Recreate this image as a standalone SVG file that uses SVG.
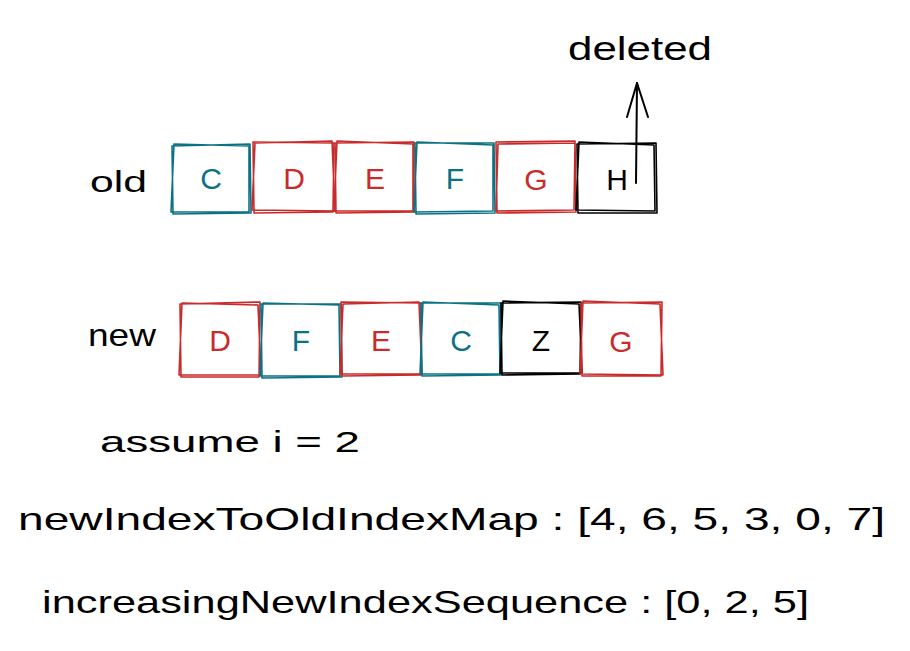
<svg xmlns="http://www.w3.org/2000/svg" width="910" height="651" viewBox="0 0 910 651">
<style>
.bx{fill:none;stroke-width:1.6;stroke-linecap:round;stroke-linejoin:round}
.teal{stroke:#0b7285}
.red{stroke:#c92a2a}
.blk{stroke:#000}
.lt{font-family:"Liberation Sans",Arial,sans-serif;font-size:30px;text-anchor:middle}
.tteal{fill:#0b7285}
.tred{fill:#c92a2a}
.tblk{fill:#000}
.lbl{font-family:"Liberation Sans",Arial,sans-serif;fill:#000}
.conn{fill:none;stroke:#000;stroke-width:2;stroke-linecap:round;stroke-linejoin:round}
</style>
<rect width="910" height="651" fill="#fff"/>

<g id="label-old"><text class="lbl" x="90" y="192" font-size="30" textLength="57" lengthAdjust="spacingAndGlyphs">old</text></g>
<g id="label-new"><text class="lbl" x="88" y="346" font-size="32" textLength="68" lengthAdjust="spacingAndGlyphs">new</text></g>
<g id="label-deleted"><text class="lbl" x="568" y="60" font-size="34" textLength="144" lengthAdjust="spacingAndGlyphs">deleted</text></g>

<g id="old-C"><path class="bx teal" d="M172 146 L250 144 L251 213 L173 214 Z M174 144 L249 146 L249 212 L171 212 Z"/><text class="lt tteal" x="211" y="189">C</text></g>
<g id="old-D"><path class="bx red" d="M253 142 L334 143 L333 212 L254 213 Z M255 143 L332 141 L335 211 L252 210 Z"/><text class="lt tred" x="294" y="189">D</text></g>
<g id="old-E"><path class="bx red" d="M335 143 L414 142 L414 212 L336 213 Z M337 141 L413 144 L413 211 L334 211 Z"/><text class="lt tred" x="375" y="189">E</text></g>
<g id="old-F"><path class="bx teal" d="M415 143 L494 143 L495 213 L416 214 Z M417 142 L493 145 L493 211 L414 212 Z"/><text class="lt tteal" x="455" y="189">F</text></g>
<g id="old-G"><path class="bx red" d="M496 142 L575 141 L576 212 L497 213 Z M498 144 L575 143 L574 210 L496 211 Z"/><text class="lt tred" x="536" y="190">G</text></g>
<g id="old-H"><path class="bx blk" d="M577 144 L656 143 L657 213 L578 213 Z M579 142 L654 145 L655 211 L576 210 Z"/><text class="lt tblk" x="617" y="190">H</text></g>

<g id="new-D"><path class="bx red" d="M180 304 L260 302 L259 377 L181 377 Z M182 303 L258 305 L261 375 L179 375 Z"/><text class="lt tred" x="220" y="351">D</text></g>
<g id="new-F"><path class="bx teal" d="M261 304 L341 304 L342 377 L262 378 Z M263 303 L339 305 L340 376 L260 376 Z"/><text class="lt tteal" x="301" y="351">F</text></g>
<g id="new-E"><path class="bx red" d="M341 302 L421 303 L421 375 L342 376 Z M343 304 L419 302 L422 374 L340 374 Z"/><text class="lt tred" x="381" y="351">E</text></g>
<g id="new-C"><path class="bx teal" d="M421 303 L501 303 L501 375 L422 376 Z M423 302 L499 305 L500 374 L420 374 Z"/><text class="lt tteal" x="461" y="351">C</text></g>
<g id="new-Z"><path class="bx blk" d="M501 303 L581 302 L580 374 L502 375 Z M503 301 L579 304 L582 373 L500 373 Z"/><text class="lt tblk" x="541" y="351">Z</text></g>
<g id="new-G"><path class="bx red" d="M581 303 L662 302 L661 376 L582 376 Z M583 301 L660 304 L663 375 L580 374 Z"/><text class="lt tred" x="621" y="352">G</text></g>

<g id="connectors">
<path class="conn" d="M636 183 L637 83"/>
<path class="conn" d="M627 117 L637 83 L648 117"/>
</g>

<g id="texts">
<text class="lbl" x="100" y="452" font-size="30" textLength="260" lengthAdjust="spacingAndGlyphs">assume i = 2</text>
<text class="lbl" x="18" y="530" font-size="32" textLength="867" lengthAdjust="spacingAndGlyphs">newIndexToOldIndexMap : [4, 6, 5, 3, 0, 7]</text>
<text class="lbl" x="42" y="613" font-size="32" textLength="767" lengthAdjust="spacingAndGlyphs">increasingNewIndexSequence : [0, 2, 5]</text>
</g>
</svg>
